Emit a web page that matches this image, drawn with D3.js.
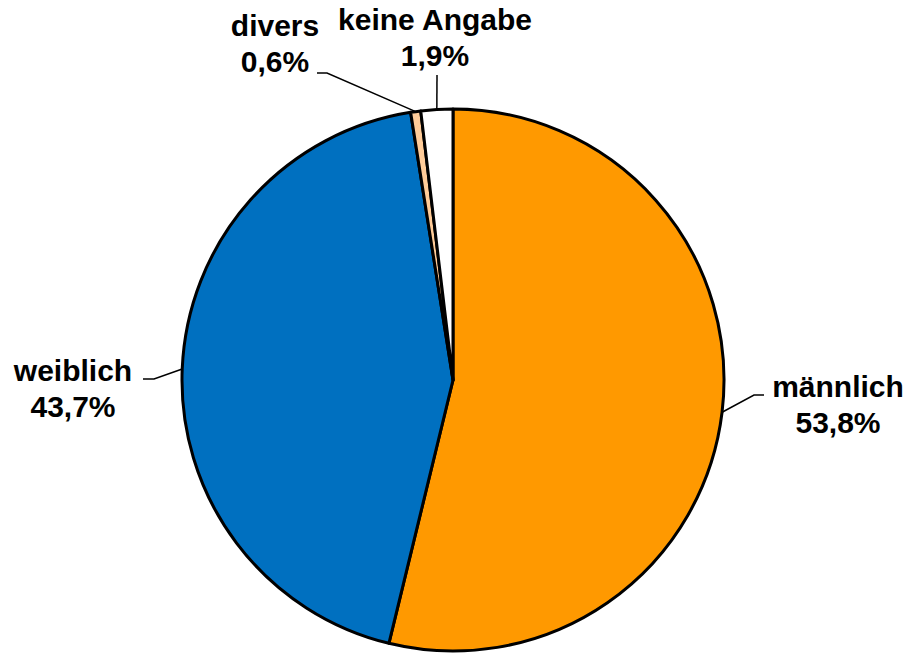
<!DOCTYPE html>
<html>
<head>
<meta charset="utf-8">
<script src="https://cdnjs.cloudflare.com/ajax/libs/d3/7.8.5/d3.min.js"></script>
<style>
  body { margin: 0; background: #fff; }
  .label text {
    font: bold 30px "Liberation Sans", Arial, sans-serif;
    fill: #000;
  }
</style>
</head>
<body>
<div class="content"></div>
<script>
  var categories = ["männlich", "weiblich", "divers", "keine Angabe"];
  var values = [53.8, 43.7, 0.6, 1.9];
  var valueLabels = ["53,8%", "43,7%", "0,6%", "1,9%"];
  var colors = ["#ff9900", "#0070c0", "#ffcc99", "#ffffff"];

  var width = 909,
      height = 653,
      cx = 453,
      cy = 380,
      radius = 271;

  // label placement (text centre, first baseline) and leader elbow
  var labelLayout = [
    {x: 838, y: 397, elbow: [[754, 395], [764, 395]]},
    {x: 73,  y: 381, elbow: [[154, 379], [143, 379]]},
    {x: 275, y: 36,  elbow: [[327, 73], [317, 73]]},
    {x: 435, y: 30,  elbow: [[437, 75]]}
  ];

  var data = categories.map(function(c, i) {
    return {name: c, value: values[i], label: valueLabels[i], color: colors[i]};
  });

  var svg = d3.select(".content").append("svg")
      .attr("width", width)
      .attr("height", height);

  var g = svg.append("g")
      .attr("transform", "translate(" + cx + "," + cy + ")");

  var pie = d3.pie()
      .sort(null)
      .value(function(d) { return d.value; });

  var arc = d3.arc()
      .innerRadius(0)
      .outerRadius(radius);

  var arcs = pie(data);

  g.selectAll("path.slice")
      .data(arcs)
      .enter().append("path")
      .attr("class", "slice")
      .attr("d", arc)
      .attr("fill", function(d) { return d.data.color; })
      .attr("stroke", "#000")
      .attr("stroke-width", 3)
      .attr("stroke-linejoin", "round");

  // leader lines from slice edge to label
  var line = d3.line();
  svg.selectAll("path.leader")
      .data(arcs)
      .enter().append("path")
      .attr("class", "leader")
      .attr("d", function(d, i) {
        var a = (d.startAngle + d.endAngle) / 2;
        var p = [cx + radius * Math.sin(a), cy - radius * Math.cos(a)];
        return line([p].concat(labelLayout[i].elbow));
      })
      .attr("fill", "none")
      .attr("stroke", "#000")
      .attr("stroke-width", 1.5);

  var label = svg.selectAll("g.label")
      .data(arcs)
      .enter().append("g")
      .attr("class", "label")
      .attr("transform", function(d, i) {
        return "translate(" + labelLayout[i].x + "," + labelLayout[i].y + ")";
      });

  label.append("text")
      .attr("text-anchor", "middle")
      .text(function(d) { return d.data.name; });

  label.append("text")
      .attr("text-anchor", "middle")
      .attr("y", 36)
      .text(function(d) { return d.data.label; });
</script>
</body>
</html>
